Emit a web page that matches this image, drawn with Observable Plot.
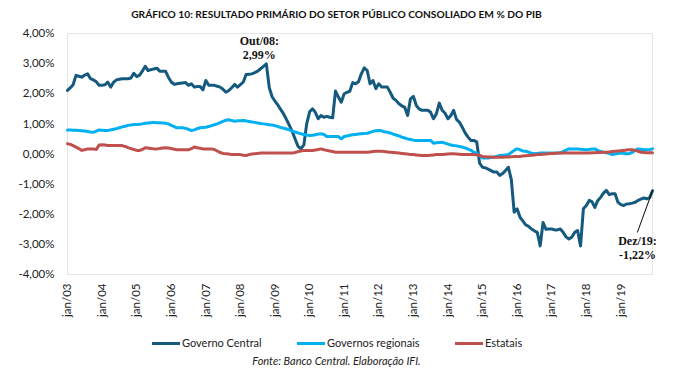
<!DOCTYPE html>
<html><head><meta charset="utf-8">
<script src="https://cdn.jsdelivr.net/npm/d3@7"></script>
<script src="https://cdn.jsdelivr.net/npm/@observablehq/plot@0.6"></script>
<style>
body{margin:0;background:#fff;width:673px;height:369px;position:relative;overflow:hidden;font-family:Lato,sans-serif;color:#222}
#title{position:absolute;top:8px;left:0;width:673px;text-align:center;font-weight:bold;font-size:10.2px;color:#111;white-space:nowrap}
#chart{position:absolute;top:26px;left:0}
.leg{position:absolute;top:335px;font-size:11px;white-space:nowrap;line-height:15px}
.leg span.sw{display:inline-block;width:28px;height:3px;vertical-align:middle;margin-right:2px;position:relative;top:-1px}
#cap{position:absolute;top:354px;left:0;width:673px;text-align:center;font-style:italic;font-size:11px;color:#222}
</style></head><body>
<div id="title">GRÁFICO 10: RESULTADO PRIMÁRIO DO SETOR PÚBLICO CONSOLIADO EM % DO PIB</div>
<div id="chart"></div>
<div id="legend"></div>
<div id="cap">Fonte: Banco Central. Elaboração IFI.</div>
<script>
// Series names and colours
const seriesNames = ["Governo Central", "Governos regionais", "Estatais"];
const seriesColors = ["#14597e", "#00b0f0", "#c0504d"];

// Monthly values, % of GDP, jan/2003 .. dez/2019
const governoCentral = [
  2.11,2.20,2.30,2.61,2.58,2.55,2.62,2.66,2.50,2.46,2.40,2.28,
  2.28,2.30,2.39,2.22,2.38,2.46,2.48,2.50,2.50,2.50,2.52,2.68,
  2.57,2.62,2.75,2.91,2.77,2.80,2.82,2.85,2.75,2.75,2.75,2.55,
  2.39,2.31,2.33,2.35,2.36,2.37,2.28,2.33,2.22,2.24,2.24,2.13,
  2.44,2.28,2.28,2.28,2.25,2.22,2.15,2.05,2.11,2.20,2.31,2.22,
  2.30,2.39,2.64,2.65,2.66,2.70,2.75,2.83,2.91,2.99,2.20,1.90,
  1.75,1.62,1.48,1.33,1.15,0.95,0.75,0.50,0.25,0.17,0.30,1.00,
  1.40,1.50,1.39,1.17,1.28,1.22,1.25,1.22,1.20,2.09,1.89,1.72,
  2.00,2.05,2.08,2.37,2.33,2.40,2.66,2.86,2.77,2.33,2.44,2.17,
  2.33,2.22,2.22,2.22,2.05,1.85,1.78,1.67,1.60,1.55,1.28,1.83,
  1.91,1.61,1.50,1.45,1.45,1.45,1.39,1.17,1.34,1.69,1.45,1.35,
  1.17,1.28,1.45,1.15,1.06,0.89,0.70,0.56,0.45,0.45,0.40,-0.30,
  -0.44,-0.46,-0.50,-0.55,-0.60,-0.60,-0.71,-0.65,-0.55,-0.44,-0.85,-1.93,
  -1.82,-2.10,-2.22,-2.35,-2.40,-2.49,-2.55,-2.60,-3.05,-2.27,-2.50,-2.49,
  -2.49,-2.52,-2.52,-2.49,-2.60,-2.75,-2.82,-2.76,-2.60,-2.54,-3.05,-1.82,
  -1.71,-1.54,-1.58,-1.77,-1.55,-1.44,-1.30,-1.21,-1.35,-1.32,-1.32,-1.60,
  -1.68,-1.71,-1.66,-1.65,-1.63,-1.60,-1.54,-1.50,-1.46,-1.49,-1.45,-1.22
];
const governosRegionais = [
  0.80,0.80,0.79,0.79,0.78,0.77,0.76,0.75,0.73,0.72,0.76,0.80,
  0.79,0.78,0.78,0.80,0.82,0.84,0.87,0.90,0.92,0.95,0.96,0.98,
  0.98,0.99,1.00,1.02,1.03,1.04,1.05,1.04,1.04,1.03,1.02,1.00,
  0.95,0.91,0.87,0.87,0.87,0.85,0.82,0.78,0.80,0.84,0.87,0.88,
  0.89,0.91,0.94,0.97,1.00,1.04,1.08,1.12,1.14,1.11,1.09,1.10,
  1.10,1.11,1.10,1.08,1.06,1.05,1.03,1.01,1.00,0.99,0.97,0.96,
  0.94,0.91,0.88,0.86,0.83,0.80,0.76,0.73,0.70,0.67,0.65,0.63,
  0.61,0.62,0.64,0.66,0.67,0.65,0.58,0.58,0.58,0.58,0.58,0.50,
  0.58,0.60,0.62,0.64,0.65,0.66,0.67,0.68,0.69,0.72,0.75,0.77,
  0.78,0.77,0.74,0.72,0.70,0.66,0.63,0.60,0.56,0.53,0.50,0.48,
  0.46,0.45,0.45,0.45,0.45,0.45,0.45,0.36,0.37,0.38,0.39,0.36,
  0.33,0.30,0.28,0.27,0.25,0.23,0.20,0.16,0.12,0.06,0.02,-0.06,
  -0.13,-0.13,-0.13,-0.12,-0.10,-0.08,-0.05,-0.04,-0.03,-0.02,0.05,0.12,
  0.17,0.14,0.10,0.09,0.06,0.03,0.01,0.02,0.03,0.03,0.03,0.03,
  0.03,0.03,0.03,0.03,0.08,0.13,0.17,0.17,0.17,0.17,0.16,0.15,
  0.14,0.15,0.17,0.17,0.12,0.08,0.06,0.04,0.02,-0.02,0.00,0.02,
  0.03,0.02,0.01,0.01,0.05,0.12,0.17,0.16,0.14,0.14,0.15,0.17
];
const estatais = [
  0.34,0.32,0.28,0.23,0.18,0.12,0.14,0.17,0.17,0.17,0.15,0.30,
  0.31,0.30,0.28,0.28,0.28,0.28,0.28,0.28,0.25,0.21,0.18,0.15,
  0.12,0.12,0.15,0.21,0.20,0.18,0.17,0.17,0.18,0.20,0.21,0.20,
  0.18,0.16,0.14,0.14,0.14,0.14,0.14,0.18,0.23,0.21,0.19,0.17,
  0.17,0.17,0.17,0.15,0.10,0.05,0.02,0.01,0.00,-0.02,-0.02,-0.02,
  -0.02,-0.04,-0.05,-0.02,0.00,0.01,0.02,0.03,0.03,0.03,0.03,0.03,
  0.03,0.03,0.03,0.03,0.03,0.03,0.03,0.05,0.08,0.10,0.12,0.12,
  0.12,0.12,0.13,0.15,0.17,0.14,0.12,0.10,0.08,0.06,0.06,0.06,
  0.06,0.06,0.06,0.06,0.06,0.06,0.06,0.06,0.06,0.07,0.08,0.09,
  0.09,0.09,0.08,0.07,0.06,0.05,0.04,0.03,0.02,0.01,0.00,-0.02,
  -0.02,-0.03,-0.04,-0.05,-0.05,-0.05,-0.04,-0.03,-0.02,-0.02,-0.02,-0.01,
  0.00,0.01,0.01,0.00,-0.01,-0.02,-0.02,-0.02,-0.02,-0.02,-0.03,-0.05,
  -0.08,-0.09,-0.10,-0.10,-0.11,-0.11,-0.11,-0.11,-0.10,-0.10,-0.09,-0.08,
  -0.08,-0.08,-0.07,-0.06,-0.05,-0.04,-0.03,-0.02,-0.02,-0.01,0.00,0.01,
  0.02,0.02,0.03,0.03,0.03,0.03,0.03,0.03,0.03,0.03,0.03,0.03,
  0.03,0.03,0.04,0.04,0.05,0.05,0.06,0.06,0.07,0.08,0.09,0.10,
  0.11,0.12,0.13,0.14,0.14,0.12,0.09,0.06,0.05,0.04,0.04,0.04
];

// Axis ticks and labels
const xTickLabels = ["jan/03","jan/04","jan/05","jan/06","jan/07","jan/08","jan/09","jan/10","jan/11","jan/12","jan/13","jan/14","jan/15","jan/16","jan/17","jan/18","jan/19"];
const yTicks = [-4,-3,-2,-1,0,1,2,3,4];

// Annotations
const annotDates = ["2008-10-01","2019-12-01"];
const annotValues = [2.99, -1.22];
const annotLabels = ["Out/08:\n2,99%", "Dez/19:\n-1,22%"];

const months = d3.utcMonth.range(new Date(Date.UTC(2003,0,1)), new Date(Date.UTC(2020,0,1)));
const xTicks = months.filter(d => d.getUTCMonth() === 0);
const mk = arr => arr.map((v,i) => ({date: months[i], v}));
const annots = annotDates.map((d,i) => ({date: new Date(d+"T00:00:00Z"), v: annotValues[i], label: annotLabels[i]}));

const fmtY = d => d.toFixed(2).replace(".", ",") + "%";

const plot = Plot.plot({
  width: 673, height: 306,
  marginLeft: 67, marginRight: 21, marginTop: 7, marginBottom: 58,
  style: {fontFamily: "Lato, sans-serif", fontSize: "11.5px", color: "#222", background: "transparent"},
  x: {type: "utc", domain: [months[0], months[months.length-1]]},
  y: {domain: [-4, 4]},
  marks: [
    Plot.frame({stroke: "#e4e4e4", strokeWidth: 1}),
    Plot.axisY({ticks: yTicks, tickFormat: fmtY, tickSize: 0, tickPadding: 13, label: null}),
    Plot.axisX({ticks: xTicks, tickFormat: d => xTickLabels[d.getUTCFullYear()-2003], tickRotate: -90, tickSize: 0, tickPadding: 9, label: null}),
    Plot.line(mk(governoCentral), {x: "date", y: "v", stroke: seriesColors[0], strokeWidth: 3, strokeLinejoin: "round"}),
    Plot.line(mk(governosRegionais), {x: "date", y: "v", stroke: seriesColors[1], strokeWidth: 3, strokeLinejoin: "round"}),
    Plot.line(mk(estatais), {x: "date", y: "v", stroke: seriesColors[2], strokeWidth: 3, strokeLinejoin: "round"}),
    Plot.text([annots[0]], {x: "date", y: "v", text: "label", lineAnchor: "bottom", dx: -7, dy: -5, lineHeight: 1.2,
      fontFamily: "Liberation Serif, serif", fontWeight: "bold", fontSize: 12, fill: "#111"}),
    Plot.vector([annots[1]], {x: "date", y: "v", anchor: "start", length: 44, rotate: 200, stroke: "#111", strokeWidth: 1,
      shape: {draw(ctx, l){ ctx.moveTo(0,0); ctx.lineTo(0,-l); }}}),
    Plot.text([annots[1]], {x: "date", y: "v", text: "label", lineAnchor: "top", dx: -15, dy: 44, lineHeight: 1.2,
      fontFamily: "Liberation Serif, serif", fontWeight: "bold", fontSize: 12, fill: "#111"})
  ]
});
document.getElementById("chart").appendChild(plot);

// Legend
const legLeft = [152, 297, 455];
const legend = document.getElementById("legend");
seriesNames.forEach((name, i) => {
  const d = document.createElement("div");
  d.className = "leg";
  d.style.left = legLeft[i] + "px";
  d.innerHTML = `<span class="sw" style="background:${seriesColors[i]}"></span>${name}`;
  legend.appendChild(d);
});
</script>
</body></html>
